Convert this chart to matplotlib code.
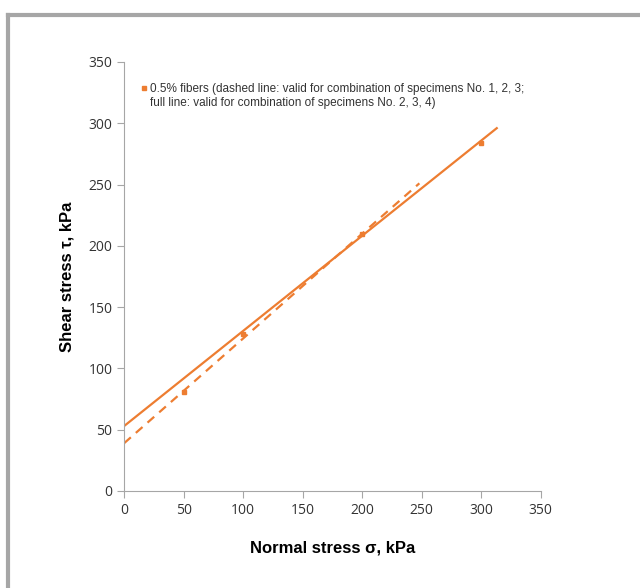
import matplotlib.pyplot as plt
from matplotlib.lines import Line2D

# dados
normal_stress = [50, 100, 200, 300]
shear_stress = [81, 128, 210, 284]

# retas de ajuste (extremos)
solid_x = [0, 313]
solid_y = [53, 296]
dashed_x = [0, 248]
dashed_y = [39, 251]

ticks = [0, 50, 100, 150, 200, 250, 300, 350]
label1 = "0.5% fibers (dashed line: valid for combination of specimens No. 1, 2, 3;"
label2 = "full line: valid for combination of specimens No. 2, 3, 4)"
orange = "#ED7D31"
gray = "#A6A6A6"

fig = plt.figure(figsize=(6.4, 5.88), dpi=100)
ax = fig.add_axes([0.194, 0.165, 0.651, 0.7296])

ax.plot(solid_x, solid_y, color=orange, lw=1.6)
ax.plot(dashed_x, dashed_y, color=orange, lw=1.6, ls=(0, (4, 3)))
ax.plot(normal_stress, shear_stress, ls="none", marker="s", ms=3,
        color=orange, label=label1)

ax.set_xlim(0, 350)
ax.set_ylim(0, 350)
ax.set_xticks(ticks)
ax.set_yticks(ticks)
for s in ["top", "right"]:
    ax.spines[s].set_visible(False)
for s in ["left", "bottom"]:
    ax.spines[s].set_color(gray)
    ax.spines[s].set_linewidth(0.8)
ax.tick_params(axis="both", direction="out", length=5, color=gray, width=0.8,
               labelsize=10, labelcolor="#333333")
for lab in ax.get_yticklabels() + ax.get_xticklabels():
    lab.set_family("Open Sans")

ax.set_xlabel("Normal stress σ, kPa", fontsize=12, fontweight="bold",
              family="Liberation Sans", labelpad=16)
ax.set_ylabel("Shear stress τ, kPa", fontsize=12, fontweight="bold",
              family="Liberation Sans", labelpad=10)

leg = ax.legend(loc="center left", bbox_to_anchor=(0.043, 0.937), frameon=False,
                handlelength=0.4, handletextpad=0.3, borderaxespad=0, borderpad=0,
                prop={"family": "Liberation Sans", "size": 8.5})
for t in leg.get_texts():
    t.set_color("#333333")
# segunda linha da legenda
ax.text(0.062, 0.904, label2, transform=ax.transAxes, va="center", ha="left",
        fontsize=8.5, family="Liberation Sans", color="#333333")

# moldura cinza
fig.add_artist(Line2D([0.0125, 1.0], [0.975, 0.975], color=gray, lw=3))
fig.add_artist(Line2D([0.0125, 0.0125], [0.0, 0.975], color=gray, lw=3))

fig.savefig("out.png", dpi=100)
